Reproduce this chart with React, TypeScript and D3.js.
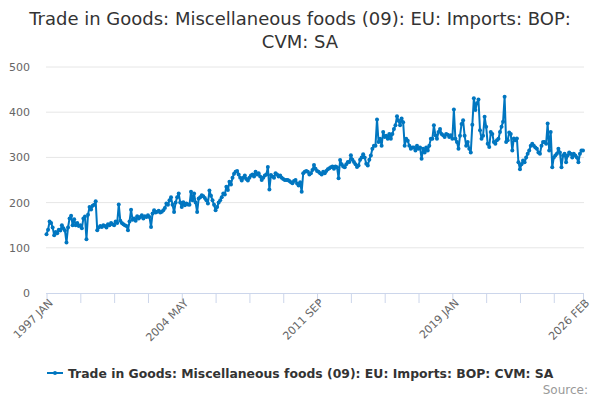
import React, { useRef, useEffect } from 'react';
import * as d3 from 'd3';

const title = 'Trade in Goods: Miscellaneous foods (09): EU: Imports: BOP: CVM: SA';
const startYear = 1997;
const monthNames = ['JAN', 'FEB', 'MAR', 'APR', 'MAY', 'JUN', 'JUL', 'AUG', 'SEP', 'OCT', 'NOV', 'DEC'];

// monthly values, 1997 JAN .. 2026 FEB, one row per year
const y1997 = [130, 140, 158, 155, 145, 128, 135, 132, 140, 138, 150, 143];
const y1998 = [138, 112, 145, 165, 171, 150, 163, 150, 155, 148, 150, 143];
const y1999 = [165, 169, 119, 173, 190, 185, 193, 195, 203, 139, 145, 148];
const y2000 = [146, 150, 148, 145, 152, 150, 155, 152, 150, 158, 155, 196];
const y2001 = [160, 155, 152, 150, 148, 139, 158, 184, 162, 165, 160, 170];
const y2002 = [165, 168, 172, 165, 170, 168, 172, 168, 146, 176, 183, 178];
const y2003 = [180, 182, 178, 180, 183, 188, 198, 195, 205, 212, 195, 179];
const y2004 = [200, 212, 220, 200, 190, 201, 194, 198, 196, 195, 224, 205];
const y2005 = [220, 200, 179, 209, 212, 216, 214, 210, 205, 198, 227, 215];
const y2006 = [205, 195, 183, 190, 200, 205, 212, 220, 218, 235, 228, 246];
const y2007 = [240, 255, 264, 268, 270, 262, 255, 249, 255, 260, 252, 249];
const y2008 = [255, 260, 262, 258, 268, 262, 265, 258, 250, 255, 260, 262];
const y2009 = [279, 229, 261, 258, 255, 265, 262, 258, 260, 255, 252, 250];
const y2010 = [250, 250, 248, 245, 243, 248, 250, 242, 238, 245, 224, 265];
const y2011 = [268, 270, 268, 262, 265, 272, 283, 275, 270, 268, 265, 262];
const y2012 = [268, 265, 270, 274, 276, 278, 280, 275, 280, 278, 254, 294];
const y2013 = [285, 280, 278, 285, 290, 290, 305, 295, 290, 285, 279, 282];
const y2014 = [295, 300, 307, 300, 286, 282, 295, 304, 319, 326, 326, 384];
const y2015 = [334, 341, 326, 356, 345, 348, 341, 352, 341, 352, 363, 371];
const y2016 = [391, 381, 371, 386, 378, 326, 341, 337, 326, 319, 322, 322];
const y2017 = [315, 326, 319, 322, 297, 319, 311, 322, 315, 326, 341, 341];
const y2018 = [371, 349, 341, 356, 363, 352, 349, 345, 352, 350, 345, 349];
const y2019 = [341, 406, 341, 334, 319, 348, 374, 382, 348, 326, 334, 319];
const y2020 = [311, 372, 431, 405, 420, 428, 360, 341, 348, 390, 368, 330];
const y2021 = [323, 356, 352, 334, 330, 338, 341, 356, 368, 379, 434, 334];
const y2022 = [338, 355, 352, 315, 342, 338, 342, 289, 274, 285, 293, 289];
const y2023 = [300, 308, 315, 326, 330, 326, 322, 319, 311, 308, 326, 334];
const y2024 = [334, 330, 375, 315, 356, 278, 300, 304, 308, 319, 311, 278];
const y2025 = [304, 308, 289, 304, 311, 308, 300, 308, 304, 300, 289, 308];
const y2026 = [315, 315];

const values: number[] = [
  ...y1997, ...y1998, ...y1999, ...y2000, ...y2001, ...y2002, ...y2003, ...y2004,
  ...y2005, ...y2006, ...y2007, ...y2008, ...y2009, ...y2010, ...y2011, ...y2012,
  ...y2013, ...y2014, ...y2015, ...y2016, ...y2017, ...y2018, ...y2019, ...y2020,
  ...y2021, ...y2022, ...y2023, ...y2024, ...y2025, ...y2026,
];

const yTicks = [0, 100, 200, 300, 400, 500];
const labelledTicks = [0, 88, 176, 264, 349];

const monthLabel = (i: number) =>
  `${startYear + Math.floor(i / 12)} ${monthNames[i % 12]}`;

const App: React.FC = () => {
  const svgRef = useRef<SVGSVGElement>(null);
  const width = 600;
  const height = 400;

  useEffect(() => {
    if (!svgRef.current) return;
    const svg = d3.select(svgRef.current);
    svg.selectAll('*').remove();

    const font = '"DejaVu Sans", sans-serif';
    const last = values.length - 1;
    const x = d3.scaleLinear().domain([0, last]).range([46.5, 583]);
    const y = d3.scaleLinear().domain([0, 500]).range([293, 67]);

    svg.append('rect').attr('width', width).attr('height', height).attr('fill', 'white');

    // title
    const t = svg.append('text')
      .attr('text-anchor', 'middle')
      .style('font-family', font)
      .style('font-size', '18px')
      .style('fill', '#333333');
    t.append('tspan').attr('x', 300).attr('y', 25).text('Trade in Goods: Miscellaneous foods (09): EU: Imports: BOP:');
    t.append('tspan').attr('x', 300).attr('y', 48).text('CVM: SA');

    // grid
    svg.append('g')
      .selectAll('line')
      .data(yTicks.filter(d => d > 0))
      .enter()
      .append('line')
      .attr('x1', 46)
      .attr('x2', 584)
      .attr('y1', d => y(d))
      .attr('y2', d => y(d))
      .attr('stroke', '#e6e6e6')
      .attr('stroke-width', 1);

    // y labels
    svg.append('g')
      .selectAll('text')
      .data(yTicks)
      .enter()
      .append('text')
      .attr('x', 30)
      .attr('y', d => y(d) + 4)
      .attr('text-anchor', 'end')
      .style('font-family', font)
      .style('font-size', '11px')
      .style('fill', '#666666')
      .text(d => d);

    // x axis
    const tickIdx = d3.range(0, last, 22).concat([last]);
    const xAxis = d3.axisBottom(x)
      .tickValues(tickIdx)
      .tickSize(10)
      .tickFormat(d => (labelledTicks.includes(+d) ? monthLabel(+d) : ''));
    const gx = svg.append('g')
      .attr('transform', 'translate(0, 293)')
      .call(xAxis);
    gx.select('.domain').attr('stroke', '#ccd6eb').attr('d', `M46,0.5H584`);
    gx.selectAll('.tick line').attr('stroke', '#ccd6eb');
    gx.selectAll('.tick text')
      .style('font-family', font)
      .style('font-size', '11px')
      .style('fill', '#666666')
      .attr('text-anchor', 'end')
      .attr('dy', null)
      .attr('transform', 'translate(1, 5) rotate(-45)')
      .attr('y', 8)
      .attr('x', 0);

    // series
    const line = d3.line<number>()
      .x((_, i) => x(i))
      .y(d => y(d));
    svg.append('path')
      .datum(values)
      .attr('fill', 'none')
      .attr('stroke', '#0076c0')
      .attr('stroke-width', 2)
      .attr('stroke-linejoin', 'round')
      .attr('d', line);

    svg.append('g')
      .selectAll('circle')
      .data(values)
      .enter()
      .append('circle')
      .attr('cx', (_, i) => x(i))
      .attr('cy', d => y(d))
      .attr('r', 2)
      .attr('fill', '#0076c0');

    // legend
    svg.append('line')
      .attr('x1', 47).attr('x2', 63)
      .attr('y1', 373).attr('y2', 373)
      .attr('stroke', '#0076c0')
      .attr('stroke-width', 2);
    svg.append('circle')
      .attr('cx', 55).attr('cy', 373).attr('r', 2)
      .attr('fill', '#0076c0');
    svg.append('text')
      .attr('x', 68)
      .attr('y', 378)
      .style('font-family', font)
      .style('font-size', '12.4px')
      .style('font-weight', 'bold')
      .style('fill', '#333333')
      .text(title);

    svg.append('text')
      .attr('x', 588)
      .attr('y', 394)
      .attr('text-anchor', 'end')
      .style('font-family', font)
      .style('font-size', '12px')
      .style('fill', '#999999')
      .text('Source:');
  }, []);

  return (
    <svg
      ref={svgRef}
      width={width}
      height={height}
      style={{ position: 'absolute', left: 0, top: 0 }}
    />
  );
};

export default App;
